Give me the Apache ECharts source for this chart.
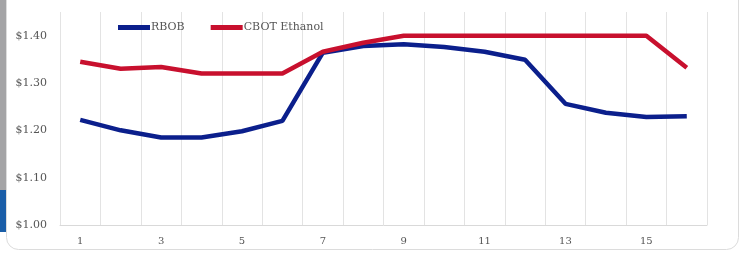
<!DOCTYPE html>
<html>
<head>
<meta charset="utf-8">
<script src="https://cdn.jsdelivr.net/npm/echarts@6/dist/echarts.min.js"></script>
<style>
  html, body { margin: 0; padding: 0; background: #fff; }
  #chart { width: 743px; height: 254px; }
</style>
</head>
<body>
<div id="chart"></div>
<script>
// week numbers on the x axis
var categories = ['1', '2', '3', '4', '5', '6', '7', '8', '9', '10', '11', '12', '13', '14', '15', '16'];
// $/gallon
var rbob = [1.222, 1.200, 1.185, 1.185, 1.198, 1.220, 1.364, 1.378, 1.382, 1.376, 1.366, 1.349, 1.256, 1.237, 1.228, 1.230];
var ethanol = [1.345, 1.330, 1.334, 1.320, 1.320, 1.320, 1.366, 1.385, 1.400, 1.400, 1.400, 1.400, 1.400, 1.400, 1.400, 1.332];

var myChart = echarts.init(document.getElementById('chart'));
var font = 'DejaVu Serif';
var option = {
    animation: false,
    backgroundColor: '#fff',
    graphic: [
        { type: 'rect', shape: { x: 0, y: 0, width: 7, height: 190 }, style: { fill: '#a4a4a6' }, z: -10 },
        { type: 'rect', shape: { x: 0, y: 190, width: 7, height: 42 }, style: { fill: '#1a5ea8' }, z: -10 },
        { type: 'rect', shape: { x: 6.5, y: -20, width: 732, height: 269.5, r: 12 },
          style: { fill: '#fff', stroke: '#dcdcdc', lineWidth: 1 }, z: -5 }
    ],
    legend: {
        data: ['RBOB', 'CBOT Ethanol'],
        left: 113,
        top: 17,
        itemWidth: 32,
        itemHeight: 5,
        itemGap: 26,
        icon: 'rect',
        textStyle: { fontFamily: font, fontSize: 11, color: '#555', padding: [0, 0, 0, -4] }
    },
    grid: {
        left: 60,
        right: 36,
        top: 12,
        bottom: 29
    },
    xAxis: {
        type: 'category',
        data: categories,
        boundaryGap: true,
        axisLine: { lineStyle: { color: '#d9d9d9' } },
        axisTick: { show: false },
        axisLabel: { interval: 1, fontFamily: font, fontSize: 10, color: '#555', margin: 11 },
        splitLine: { show: true, interval: 0, lineStyle: { color: '#e3e3e3' } }
    },
    yAxis: {
        type: 'value',
        min: 1.0,
        max: 1.45,
        interval: 0.1,
        axisLine: { show: false },
        axisTick: { show: false },
        splitLine: { show: false },
        axisLabel: {
            showMaxLabel: false,
            margin: 13,
            fontFamily: font, fontSize: 11, color: '#555',
            formatter: function (v) { return '$' + v.toFixed(2); }
        }
    },
    series: [
        {
            name: 'RBOB',
            type: 'line',
            symbol: 'none',
            color: '#0b1f8c',
            lineStyle: { width: 4.5, color: '#0b1f8c' },
            data: rbob
        },
        {
            name: 'CBOT Ethanol',
            type: 'line',
            symbol: 'none',
            color: '#c8102e',
            lineStyle: { width: 4.5, color: '#c8102e' },
            data: ethanol
        }
    ]
};
myChart.setOption(option, true);
</script>
</body>
</html>
